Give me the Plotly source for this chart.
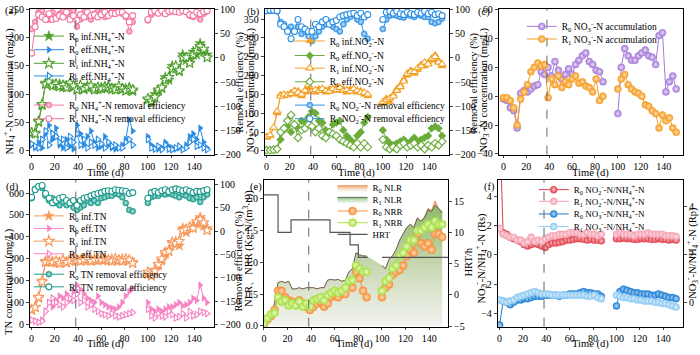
import plotly.graph_objects as go

W, H = 700, 355
FONT = "Liberation Serif"

# ---------------- data ----------------
DAYS_1 = [0, 3, 6, 9, 12, 15, 18, 21, 24, 27, 30, 33, 36, 39, 42, 45, 48, 51, 54, 57,
          60, 63, 66, 69, 72, 75, 78, 81, 84, 87]
DAYS_2 = [100, 103, 106, 109, 112, 115, 118, 121, 124, 127, 130, 133, 136, 139, 142, 145, 148, 151]
PHASE_DAY = 38
X_TICKS = [0, 20, 40, 60, 80, 100, 120, 140]

# (a) NH4+-N
a_r0_inf = [30, 32, 50, 80, 120, 118, 117, 115, 118, 112, 115, 118, 112, 110, 113, 108, 115, 112, 110, 108,
            112, 110, 115, 108, 110, 112, 108, 110, 112, 105,
            90, 85, 100, 105, 110, 130, 125, 150, 145, 140, 170, 160, 160, 175, 170, 190, 175, 170]
a_r1_inf = [32, 30, 52, 82, 118, 122, 115, 118, 114, 116, 112, 120, 115, 108, 116, 110, 112, 115, 108, 112,
            110, 113, 112, 110, 108, 114, 110, 106, 110, 108,
            92, 88, 95, 108, 112, 125, 130, 145, 150, 142, 165, 165, 155, 170, 178, 185, 180, 165]
a_r0_eff = [10, 5, 15, 5, 30, 45, 20, 40, 10, 5, 20, 8, 3, 45, 30, 10, 25, 35, 15, 5,
            8, 25, 10, 5, 3, 5, 10, 20, 55, 35,
            25, 10, 5, 3, 5, 15, 8, 5, 3, 5, 3, 10, 25, 30, 20, 40, 15, 5]
a_r1_eff = [12, 8, 5, 20, 35, 10, 30, 25, 15, 20, 5, 25, 15, 30, 10, 20, 5, 15, 10, 20,
            12, 5, 15, 8, 10, 5, 5, 15, 20, 10,
            20, 5, 3, 8, 2, 10, 3, 2, 5, 8, 2, 5, 15, 20, 8, 10, 5, 2]
a_r0_rem = [60, 75, 95, 98, 85, 80, 95, 85, 92, 98, 90, 95, 98, 65, 80, 95, 85, 80, 92, 98,
            95, 85, 92, 98, 97, 96, 92, 85, 55, 75,
            78, 90, 96, 98, 97, 92, 95, 97, 98, 97, 98, 95, 88, 85, 90, 80, 92, 97]
a_r1_rem = [10, 65, 90, 85, 80, 92, 80, 82, 88, 85, 95, 80, 88, 78, 90, 85, 95, 88, 90, 85,
            90, 95, 88, 93, 92, 95, 95, 88, 75, 88,
            80, 95, 98, 93, 98, 92, 97, 98, 96, 95, 98, 96, 90, 88, 95, 92, 96, 98]

# (b) NO2--N
b_r0_inf = [35, 40, 60, 100, 150, 145, 150, 155, 150, 160, 145, 155, 165, 160, 155, 165, 160, 155, 165, 160,
            170, 160, 165, 155, 165, 160, 155, 160, 150, 145,
            125, 140, 130, 150, 165, 175, 190, 200, 215, 205, 215, 230, 225, 235, 240, 255, 240, 225]
b_r1_inf = [38, 42, 62, 105, 145, 150, 148, 152, 160, 155, 150, 160, 175, 158, 162, 160, 165, 160, 158, 165,
            162, 168, 160, 162, 158, 165, 160, 155, 155, 150,
            130, 135, 140, 145, 160, 170, 185, 205, 210, 210, 220, 225, 235, 230, 245, 250, 235, 230]
b_r0_eff = [2, 2, 3, 5, 30, 55, 65, 50, 70, 60, 80, 75, 90, 105, 100, 80, 75, 55, 50, 70,
            75, 80, 55, 40, 30, 20, 40, 50, 75, 90,
            55, 30, 20, 15, 20, 25, 30, 20, 25, 35, 25, 30, 35, 40, 60, 65, 60, 40]
b_r1_eff = [2, 2, 3, 5, 50, 60, 80, 95, 70, 35, 55, 60, 70, 65, 50, 60, 40, 35, 50, 45,
            40, 30, 25, 20, 15, 10, 20, 10, 20, 10,
            30, 10, 5, 10, 5, 15, 20, 10, 15, 20, 10, 15, 5, 15, 10, 20, 15, 25]
b_r0_rem = [98, 98, 98, 97, 75, 70, 60, 65, 55, 65, 50, 55, 45, 35, 45, 55, 65, 70, 75, 65,
            60, 55, 70, 80, 85, 90, 80, 75, 50, 40,
            60, 80, 88, 90, 88, 85, 84, 90, 88, 85, 90, 88, 85, 85, 75, 72, 75, 82]
b_r1_rem = [98, 99, 99, 98, 70, 65, 55, 40, 55, 80, 65, 60, 55, 55, 70, 65, 75, 80, 70, 75,
            78, 85, 88, 90, 92, 93, 88, 93, 85, 90,
            80, 95, 97, 93, 97, 92, 90, 95, 92, 90, 95, 93, 97, 92, 95, 90, 92, 88]

# (c) NO3--N accumulation
c_r0 = [-2, -3, -8, -10, -22, 2, 4, 3, 5, 7, 8, 17, 15, 20, 14, 24, 18, 12, 15, 19,
        15, 22, 25, 28, 30, 24, 22, 18, 17, 10,
        -12, 20, 33, 28, 25, 25, 28, 30, 32, 28, 27, 22, 42, 44, 3, 10, 14, 5]
c_r1 = [-1, -1, -3, -8, -20, -2, 3, 8, 17, 20, 23, 21, 22, -1, 12, 8, 14, 6, 10, 8,
        12, 14, 9, 10, 7, 6, 3, 12, -3, 0,
        5, 12, 15, 8, 5, 3, 2, 0, -6, -7, -10, -12, -22, -13, -17, -15, -22, -25]

# (d) TN
d_r0_inf = [65, 80, 120, 200, 290, 285, 290, 280, 285, 290, 280, 295, 300, 290, 295, 300, 290, 295, 300, 290,
            300, 295, 290, 300, 295, 290, 300, 295, 290, 285,
            230, 220, 250, 270, 290, 320, 340, 370, 380, 360, 440, 420, 440, 450, 460, 490, 450, 440]
d_r1_inf = [68, 78, 125, 195, 285, 290, 285, 290, 280, 295, 285, 290, 305, 295, 290, 295, 300, 290, 295, 300,
            295, 300, 295, 290, 300, 295, 290, 300, 295, 280,
            240, 225, 245, 275, 300, 330, 335, 375, 370, 380, 430, 435, 445, 440, 470, 480, 465, 430]
d_r0_eff = [20, 15, 10, 20, 60, 100, 80, 110, 130, 120, 140, 110, 150, 180, 160, 140, 120, 110, 100, 130,
            100, 90, 80, 75, 70, 80, 100, 130, 150, 165,
            100, 70, 60, 70, 60, 70, 80, 80, 90, 100, 85, 90, 100, 120, 110, 180, 120, 100]
d_r1_eff = [20, 15, 10, 15, 60, 100, 120, 100, 90, 80, 100, 120, 110, 140, 100, 110, 80, 90, 70, 60,
            50, 45, 40, 50, 40, 35, 40, 45, 50, 55,
            70, 40, 30, 50, 40, 35, 60, 45, 30, 35, 50, 30, 60, 40, 45, 60, 55, 50]
d_r0_rem = [70, 90, 95, 92, 75, 65, 70, 60, 55, 62, 55, 62, 50, 45, 50, 55, 65, 60, 65, 60,
            70, 72, 75, 75, 80, 78, 72, 60, 45, 42,
            60, 72, 75, 75, 80, 78, 80, 78, 75, 72, 78, 75, 70, 68, 72, 62, 72, 78]
d_r1_rem = [72, 88, 95, 97, 80, 70, 60, 65, 70, 72, 65, 60, 65, 55, 65, 70, 72, 75, 78, 80,
            82, 85, 86, 85, 88, 87, 86, 85, 80, 82,
            70, 82, 85, 82, 86, 88, 84, 88, 90, 88, 86, 88, 85, 82, 85, 84, 86, 88]

# (e) NLR / NRR / HRT
e_r0_nlr = [0.05, 0.15, 0.2, 0.35, 0.68, 0.7, 0.68, 0.7, 0.58, 0.58, 0.6, 0.58, 0.6, 0.6, 0.6, 0.58, 0.6, 0.6,
            0.72, 0.73, 0.72, 0.73, 0.7, 0.72, 0.85, 0.9, 1.15, 1.12, 1.1, 1.1,
            0.95, 0.9, 1.05, 1.1, 1.2, 1.35, 1.45, 1.55, 1.6, 1.55, 1.7, 1.65, 1.72, 1.85, 1.82, 1.97, 1.85, 1.8]
e_r1_nlr = [0.05, 0.15, 0.2, 0.35, 0.68, 0.7, 0.68, 0.7, 0.58, 0.58, 0.6, 0.58, 0.6, 0.6, 0.6, 0.58, 0.6, 0.6,
            0.72, 0.73, 0.72, 0.73, 0.7, 0.72, 0.85, 0.9, 1.15, 1.12, 1.1, 1.1,
            0.95, 0.9, 1.05, 1.1, 1.2, 1.35, 1.45, 1.55, 1.6, 1.55, 1.7, 1.65, 1.7, 1.83, 1.8, 1.9, 1.85, 1.78]
e_r0_nrr = [0.02, 0.1, 0.15, 0.25, 0.55, 0.55, 0.45, 0.4, 0.38, 0.35, 0.4, 0.35, 0.3, 0.25, 0.3, 0.35, 0.38, 0.3,
            0.35, 0.45, 0.48, 0.45, 0.5, 0.5, 0.62, 0.6, 0.85, 0.75, 0.55, 0.45,
            0.45, 0.6, 0.65, 0.8, 0.85, 0.88, 0.95, 1.1, 1.2, 1.15, 1.45, 1.3, 1.25, 1.3, 1.2, 1.45, 1.45, 1.4]
e_r1_nrr = [0.03, 0.12, 0.18, 0.2, 0.45, 0.38, 0.4, 0.32, 0.35, 0.32, 0.38, 0.3, 0.35, 0.3, 0.4, 0.42, 0.45, 0.4,
            0.48, 0.52, 0.55, 0.52, 0.55, 0.6, 0.7, 0.72, 0.95, 0.9, 0.85, 0.85,
            0.55, 0.7, 0.75, 0.9, 0.95, 1.1, 1.15, 1.25, 1.35, 1.35, 1.5, 1.5, 1.55, 1.6, 1.55, 1.65, 1.6, 1.6]
HRT_DAYS_1 = [0, 12, 23, 56, 73, 80, 88]
HRT_1 = [16, 10, 12, 10, 8, 6, 6]
HRT_DAYS_2 = [100, 156]
HRT_2 = [6, 6]

# (f) ratios
f_r0_no2 = [9, 1.5, 1.4, 1.2, 1.1, 1.0, 0.9, 0.7, 0.6, 0.7, 0.8, 0.7, 0.6, 0.5, 0.7, 0.8, 0.8, 0.85, 0.9, 1.0,
            1.0, 1.05, 1.1, 1.1, 1.05, 1.0, 1.05, 1.0, 1.0, 0.95,
            1.1, 1.1, 1.15, 1.1, 1.1, 1.05, 1.05, 1.1, 1.1, 1.1, 1.05, 1.05, 1.1, 1.05, 1.05, 1.0, 1.05, 1.0]
f_r1_no2 = [1.8, 1.4, 1.3, 1.2, 1.2, 1.0, 1.0, 0.8, 0.9, 1.2, 0.9, 1.0, 0.9, 1.1, 1.2, 1.3, 1.3, 1.4, 1.4, 1.4,
            1.5, 1.5, 1.5, 1.4, 1.4, 1.5, 1.4, 1.4, 1.3, 1.4,
            1.4, 1.5, 1.4, 1.4, 1.4, 1.3, 1.4, 1.4, 1.4, 1.5, 1.4, 1.4, 1.4, 1.4, 1.3, 1.3, 1.3, 1.25]
f_r0_no3 = [-0.95, 0.05, 0.0, -0.1, 0.0, 0.1, 0.1, 0.15, 0.15, 0.2, 0.25, 0.25, 0.25, 0.3, 0.3, 0.3, 0.3, 0.25, 0.3, 0.3,
            0.35, 0.35, 0.35, 0.4, 0.45, 0.4, 0.4, 0.35, 0.35, 0.25,
            -0.15, 0.45, 0.55, 0.5, 0.45, 0.4, 0.4, 0.35, 0.35, 0.35, 0.3, 0.3, 0.35, 0.3, 0.25, 0.2, 0.2, 0.15]
f_r1_no3 = [0.1, 0.05, 0.0, 0.05, 0.1, 0.2, 0.25, 0.3, 0.35, 0.4, 0.45, 0.4, 0.35, 0.35, 0.35, 0.3, 0.3, 0.3, 0.3, 0.3,
            0.3, 0.3, 0.3, 0.3, 0.3, 0.25, 0.25, 0.3, 0.2, 0.15,
            0.3, 0.25, 0.2, 0.2, 0.15, 0.15, 0.1, 0.1, 0.05, 0.05, 0.05, 0.0, 0.0, -0.05, -0.05, -0.1, -0.15, -0.2]

# ---------------- helpers ----------------
N1 = len(DAYS_1)


def seg(v):
    return DAYS_1 + [None] + DAYS_2, list(v[:N1]) + [None] + list(v[N1:])


fig = go.Figure()
legend_specs = []


def next_legend():
    n = len(legend_specs) + 1
    return "legend" if n == 1 else f"legend{n}"


def add(v, xa, ya, name, color, symbol, filled=True, size=6, tx=0, yc=0, fs=9.5,
        sphere=None, lw=1):
    lid = next_legend()
    x, y = seg(v)
    mk = dict(symbol=symbol, size=size)
    if filled:
        mk.update(color=color, line=dict(color=color, width=0.5))
        if sphere:
            mk["gradient"] = dict(type="radial", color=sphere)
    else:
        mk.update(color="white", line=dict(color=color, width=1.1))
    fig.add_trace(go.Scatter(x=x, y=y, xaxis=xa, yaxis=ya, mode="lines+markers", name=name,
                             line=dict(color=color, width=lw), marker=mk, legend=lid,
                             connectgaps=False, cliponaxis=True))
    legend_specs.append((lid, tx, yc, fs))


R0 = "R<sub>0</sub>"
R1 = "R<sub>1</sub>"
NH4 = "NH<sub>4</sub><sup>+</sup>-N"
NO2 = "NO<sub>2</sub><sup>-</sup>-N"
NO3 = "NO<sub>3</sub><sup>-</sup>-N"

# ---------------- panel (a) ----------------
GREEN_A, BLUE_A, PINK_A = "#4f9f2f", "#2a8ce2", "#f3789e"
add(a_r0_inf, "x", "y", f"{R0} inf.{NH4}", GREEN_A, "star", True, 8, 68, 32)
add(a_r0_eff, "x", "y", f"{R0} eff.{NH4}", BLUE_A, "triangle-right", True, 6, 68, 46)
add(a_r1_inf, "x", "y", f"{R1} inf.{NH4}", GREEN_A, "star", False, 8, 68, 60)
add(a_r1_eff, "x", "y", f"{R1} eff.{NH4}", BLUE_A, "triangle-right", False, 6, 68, 73)
add(a_r0_rem, "x", "y2", f"{R0} {NH4} removal efficiency", PINK_A, "circle", True, 6, 68, 103, sphere="#fcd3df")
add(a_r1_rem, "x", "y2", f"{R1} {NH4} removal efficiency", PINK_A, "circle", False, 6, 68, 117)

# ---------------- panel (b) ----------------
ORANGE_B, GREEN_B, BLUE_B = "#f2a126", "#6aac3a", "#2e90e4"
add(b_r0_inf, "x2", "y3", f"{R0} inf.{NO2}", ORANGE_B, "triangle-up", True, 7, 330, 37)
add(b_r0_eff, "x2", "y3", f"{R0} eff.{NO2}", GREEN_B, "diamond", True, 6, 330, 52)
add(b_r1_inf, "x2", "y3", f"{R1} inf.{NO2}", ORANGE_B, "triangle-up", False, 7, 330, 65)
add(b_r1_eff, "x2", "y3", f"{R1} eff.{NO2}", GREEN_B, "diamond", False, 6, 330, 79)
add(b_r0_rem, "x2", "y4", f"{R0} {NO2} removal efficiency", BLUE_B, "circle", True, 6, 330, 103, sphere="#cfe6fb")
add(b_r1_rem, "x2", "y4", f"{R1} {NO2} removal efficiency", BLUE_B, "circle", False, 6, 330, 117)

# ---------------- panel (c) ----------------
PURPLE_C, ORANGE_C = "#a57bd8", "#f59b1e"
add(c_r0, "x3", "y5", f"{R0} {NO3} accumulation", PURPLE_C, "circle", True, 7, 563, 22, sphere="#eadcf8")
add(c_r1, "x3", "y5", f"{R1} {NO3} accumulation", ORANGE_C, "circle", True, 7, 563, 35, sphere="#fde0b6")

# ---------------- panel (d) ----------------
ORANGE_D, PINK_D, TEAL_D = "#f6995c", "#f684c4", "#1b9a8c"
add(d_r0_inf, "x4", "y6", f"{R0} inf.TN", ORANGE_D, "star", True, 8, 68, 217)
add(d_r0_eff, "x4", "y6", f"{R0} eff.TN", PINK_D, "triangle-right", True, 6, 68, 230)
add(d_r1_inf, "x4", "y6", f"{R1} inf.TN", ORANGE_D, "star", False, 8, 68, 243)
add(d_r1_eff, "x4", "y6", f"{R1} eff.TN", PINK_D, "triangle-right", False, 6, 68, 256)
add(d_r0_rem, "x4", "y7", f"{R0} TN removal efficiency", TEAL_D, "circle", True, 6, 68, 277, sphere="#bfe6e0")
add(d_r1_rem, "x4", "y7", f"{R1} TN removal efficiency", TEAL_D, "circle", False, 6, 68, 290)

# ---------------- panel (e) ----------------
for vals, nm, top, edge, yc in [
    (e_r0_nlr, f"{R0} NLR", "rgba(246,160,95,0.9)", "#e58a4a", 188),
    (e_r1_nlr, f"{R1} NLR", "rgba(110,186,95,0.85)", "#4f4f4f", 200),
]:
    lid = next_legend()
    x, y = seg(vals)
    fig.add_trace(go.Scatter(x=x, y=y, xaxis="x5", yaxis="y8", mode="lines", name=nm,
                             line=dict(color=edge, width=0.8), fill="tozeroy", connectgaps=False,
                             fillgradient=dict(type="vertical", start=0, stop=2.0,
                                               colorscale=[[0, "rgba(240,242,240,0.5)"], [1, top]]),
                             legend=lid))
    legend_specs.append((lid, 373, yc, 9))
ORANGE_E, LGREEN_E = "#f6913c", "#a9df45"
add(e_r0_nrr, "x5", "y8", f"{R0} NRR", ORANGE_E, "circle", True, 8, 373, 212, fs=9, sphere="#fdd9b8")
add(e_r1_nrr, "x5", "y8", f"{R1} NRR", LGREEN_E, "circle", True, 8, 373, 224, fs=9, sphere="#eafbc8")
lid = next_legend()
fig.add_trace(go.Scatter(x=HRT_DAYS_1 + [None] + HRT_DAYS_2, y=HRT_1 + [None] + HRT_2,
                         xaxis="x5", yaxis="y9", mode="lines", name="HRT", line_shape="hv",
                         line=dict(color="#555555", width=1.2), connectgaps=False, legend=lid))
legend_specs.append((lid, 373, 236, 9))

# ---------------- panel (f) ----------------
RED_F, PINK_F, BLUE_F, LBLUE_F = "#e2414f", "#f5a2b3", "#1f7fd2", "#8dc9f2"
add(f_r0_no2, "x6", "y10", f"{R0} {NO2}/{NH4}", RED_F, "circle", True, 7, 575, 190, fs=9, sphere="#f8c4c8")
add(f_r1_no2, "x6", "y10", f"{R1} {NO2}/{NH4}", PINK_F, "circle", True, 7, 575, 202, fs=9, sphere="#fde3e8")
add(f_r0_no3, "x6", "y11", f"{R0} {NO3}/{NH4}", BLUE_F, "circle", True, 7, 575, 215, fs=9, sphere="#bcdcf6")
add(f_r1_no3, "x6", "y11", f"{R1} {NO3}/{NH4}", LBLUE_F, "circle", True, 7, 575, 228, fs=9, sphere="#e3f3fd")

# ---------------- layout ----------------
TF = dict(family=FONT, size=10, color="black")
TITLEF = dict(family=FONT, size=10.5, color="black")


def xax(dom, anchor, rng):
    return dict(domain=dom, anchor=anchor, range=rng, showline=True, linecolor="black", linewidth=1,
                mirror=True, ticks="outside", ticklen=2, tickvals=X_TICKS, showgrid=False,
                zeroline=False, tickfont=TF)


def yax(dom, anchor, rng, dtick):
    return dict(domain=dom, anchor=anchor, range=rng, showline=True, linecolor="black", linewidth=1,
                mirror=True, ticks="outside", ticklen=3, showgrid=False, zeroline=False, tickfont=TF,
                dtick=dtick)


def ryax(overlay, anchor, rng, dtick):
    return dict(overlaying=overlay, anchor=anchor, side="right", range=rng, showline=True,
                linecolor="black", linewidth=1, ticks="outside", ticklen=3, showgrid=False,
                zeroline=False, tickfont=TF, dtick=dtick)


TOP_Y = [1 - 154 / H, 1 - 4 / H]
BOT_Y = [1 - 331 / H, 1 - 180 / H]
A_X = [27 / W, 212 / W]
B_X = [263 / W, 448 / W]
C_X = [498 / W, 683 / W]
D_X = [27 / W, 212 / W]
E_X = [262 / W, 447 / W]
F_X = [497 / W, 683 / W]

layout = dict(
    width=W, height=H, margin=dict(l=0, r=0, t=0, b=0),
    paper_bgcolor="white", plot_bgcolor="white", font=dict(family=FONT, color="black"),
    xaxis=xax(A_X, "y", [-1.5, 157]),
    yaxis=yax(TOP_Y, "x", [-7, 251], 50),
    yaxis2=ryax("y", "x", [-201, 102], 50),
    xaxis2=xax(B_X, "y3", [-1.5, 157]),
    yaxis3=yax(TOP_Y, "x2", [-10, 377], 50),
    yaxis4=ryax("y3", "x2", [-201, 102], 50),
    xaxis3=xax(C_X, "y5", [-4, 157]),
    yaxis5=yax(TOP_Y, "x3", [-40.5, 60.5], 20),
    xaxis4=xax(D_X, "y6", [-1.5, 157]),
    yaxis6=yax(BOT_Y, "x4", [-10, 660], 100),
    yaxis7=ryax("y6", "x4", [-204, 109], 50),
    xaxis5=xax(E_X, "y8", [0, 156]),
    yaxis8=yax(BOT_Y, "x5", [-0.015, 2.3], 0.5),
    yaxis9=ryax("y8", "x5", [-5.1, 18.4], 5),
    xaxis6=xax(F_X, "y10", [-1.5, 157]),
    yaxis10=yax(BOT_Y, "x6", [-4.9, 5.1], 2),
    yaxis11=ryax("y10", "x6", [-1.02, 5.12], 2),
    showlegend=True,
)
layout["yaxis8"]["tickformat"] = ".1f"

for lid, tx, yc, fs in legend_specs:
    layout[lid] = dict(x=(tx - 42) / W, xanchor="left", y=1 - yc / H, yanchor="middle",
                       bgcolor="rgba(0,0,0,0)", borderwidth=0, tracegroupgap=0,
                       font=dict(family=FONT, size=fs, color="black"))

# phase dashed lines
shapes = []
for xa, ya in [("x", "y"), ("x2", "y3"), ("x3", "y5"), ("x4", "y6"), ("x5", "y8"), ("x6", "y10")]:
    shapes.append(dict(type="line", xref=xa, yref=f"{ya} domain", x0=PHASE_DAY, x1=PHASE_DAY,
                       y0=0, y1=1, line=dict(color="#666666", width=1, dash="dash")))
layout["shapes"] = shapes

annos = []
labels = [("(a)", 0, 6), ("(b)", 243, 7), ("(c)", 475, 7), ("(d)", 1, 187), ("(e)", 246, 187), ("(f)", 481, 187)]
for t, px, py in labels:
    annos.append(dict(text=t, x=px / W, y=1 - py / H, xref="paper", yref="paper",
                      xanchor="left", yanchor="middle", showarrow=False,
                      font=dict(family=FONT, size=10.5, color="black")))

# axis titles (text, x_px, y_px, angle)
titles = [
    ("Time (d)", 103, 173, 0), ("Time (d)", 355, 173, 0), ("Time (d)", 590, 173, 0),
    ("Time (d)", 103, 349, 0), ("Time (d)", 353, 349, 0), ("Time (d)", 590, 349, 0),
    (f"{NH4} concentration (mg/L)", 6, 88, -90),
    ("Removal efficiency (%)", 238, 79, -90),
    (f"{NO2} concentration (mg/L)", 248, 87, -90),
    ("Removal efficiency (%)", 473, 80, -90),
    (f"{NO3} concentration (mg/L)", 482, 87, -90),
    ("TN concentration (mg/L)", 6, 284, -90),
    ("Removal efficiency (%)", 237, 263, -90),
    ("NLR、NRR (Kg N/(m<sup>3</sup>·d))", 246, 250, -90),
    ("HRT/h", 468, 264, -90),
    (f"{NO2}/{NH4} (Rs)", 480, 260, -90),
    (f"{NO3}/{NH4} (Rp)", 692, 255, -90),
]
for t, px, py, ang in titles:
    annos.append(dict(text=t, x=px / W, y=1 - py / H, xref="paper", yref="paper",
                      xanchor="center", yanchor="middle", textangle=ang, showarrow=False,
                      font=TITLEF))
layout["annotations"] = annos

fig.update_layout(**layout)
fig.write_html("out.html", config={"displayModeBar": False},
               post_script="document.body.style.margin='0';document.body.style.padding='0';")
